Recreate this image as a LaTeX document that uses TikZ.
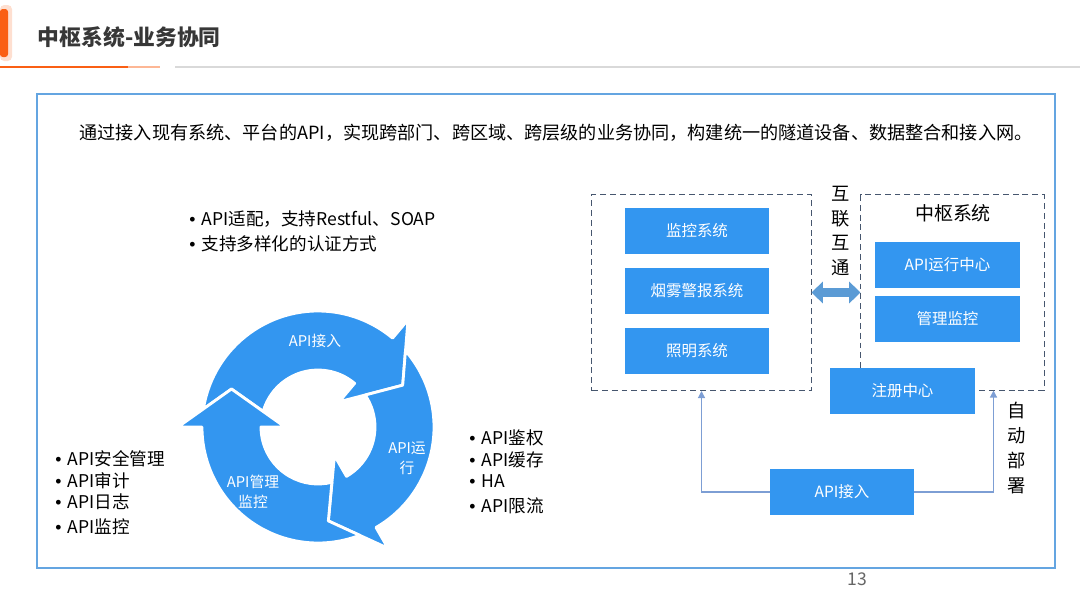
\documentclass[tikz,border=0pt]{standalone}
\usepackage{fontspec}
\setmainfont{Noto Sans CJK SC}
\newfontfamily\latinfont{Liberation Sans}
\usetikzlibrary{positioning, calc, arrows.meta}

\definecolor{azulcaja}{RGB}{51,150,240}
\definecolor{azulmarco}{RGB}{100,165,225}
\definecolor{azulflecha}{RGB}{91,155,213}
\definecolor{azullinea}{RGB}{125,158,212}
\definecolor{grisborde}{RGB}{70,86,110}
\definecolor{naranja}{RGB}{250,95,20}
\definecolor{gristitulo}{RGB}{55,55,55}

\tikzset{
  caja/.style={shape=rectangle, fill=azulcaja, text=white, minimum width=3.6cm, minimum height=1.15cm, inner sep=0pt, font=\fontsize{11pt}{13pt}\selectfont},
  grupo/.style={shape=rectangle, draw=grisborde, dash pattern=on 4.2pt off 2.8pt, line width=0.7pt, inner sep=0pt},
  conector/.style={draw=azullinea, line width=0.9pt, -{Triangle[length=5pt, width=5pt]}},
  doble/.style={draw=azulflecha, line width=7pt, {Triangle[length=8pt, width=15pt]}-{Triangle[length=8pt, width=15pt]}},
  ciclo/.style={fill=azulcaja, draw=white, line width=2pt, line join=round},
  etiquetaciclo/.style={text=white, align=center, font=\fontsize{10.5pt}{14pt}\selectfont},
  vineta/.style={anchor=west, inner sep=0pt, font=\fontsize{12.5pt}{14pt}\selectfont},
  vertical/.style={align=center, font=\fontsize{13pt}{17.6pt}\selectfont}
}

\newcommand{\punto}{{\latinfont\textbullet}\hspace{0.35em}}

% flecha circular: inicio, fin
\newcommand{\flechacirc}[2]{%
  \fill[ciclo] ($(C)+(#1:86.5)+(#1+90:38)$)
    -- ($(C)+(#1+8.95:116)$)
    arc[start angle=#1+8.95, end angle=#2, radius=116]
    -- ($(C)+(#2:140)$)
    -- ($(C)+(#2:86.5)+(#2+90:38)$)
    -- ($(C)+(#2:33)$)
    -- ($(C)+(#2:57)$)
    arc[start angle=#2, end angle=#1+15.9, radius=57]
    -- cycle;
}

\begin{document}
\begin{tikzpicture}[x=0.025cm, y=-0.025cm]
  \useasboundingbox (0,0) rectangle (1080,608);

  % Cabecera
  \fill[naranja!20, rounded corners=3pt] (0,5) rectangle (12,61);
  \fill[naranja, rounded corners=2pt] (0,9) rectangle (8,57);
  \node[anchor=west, text=gristitulo, font=\fontsize{15.5pt}{18pt}\selectfont\bfseries] (Titulo) at (33,37) {中枢系统-业务协同};
  \draw[naranja, line width=1.2pt] (0,67) -- (128,67);
  \draw[naranja!45, line width=1.2pt] (128,67) -- (160,67);
  \draw[gray!30, line width=1.2pt] (175,67) -- (1080,67);

  % Marco
  \draw[azulmarco, line width=0.9pt] (37,94) rectangle (1055,568);

  % Texto principal
  \node[font=\fontsize{12.9pt}{15pt}\selectfont] (Resumen) at (556,133) {通过接入现有系统、平台的API，实现跨部门、跨区域、跨层级的业务协同，构建统一的隧道设备、数据整合和接入网。};

  % Viñetas
  \node[vineta] (Adapta) at (189,219) {\punto API适配，支持Restful、SOAP};
  \node[vineta] (Autent) at (189,244) {\punto 支持多样化的认证方式};

  \node[vineta] (Seguridad) at (55,459) {\punto API安全管理};
  \node[vineta] (Auditoria) at (55,481) {\punto API审计};
  \node[vineta] (Registro) at (55,502) {\punto API日志};
  \node[vineta] (Monitoreo) at (55,527) {\punto API监控};

  \node[vineta] (Autoriza) at (469,438) {\punto API鉴权};
  \node[vineta] (Cache) at (469,460) {\punto API缓存};
  \node[vineta] (Alta) at (469,481) {\punto HA};
  \node[vineta] (Limite) at (469,506) {\punto API限流};

  % Ciclo
  \coordinate (C) at (318,427);
  \flechacirc{180}{310}
  \flechacirc{310}{420}
  \flechacirc{60}{180}
  \node[etiquetaciclo] (CicloAcceso) at (315,341) {API接入};
  \node[etiquetaciclo] (CicloEjec) at (407,458) {API运\\行};
  \node[etiquetaciclo] (CicloGestion) at (253,492) {API管理\\监控};

  % Grupos
  \node[grupo, minimum width=5.475cm, minimum height=4.9cm] (Externos) at (701.5,292.5) {};
  \node[grupo, minimum width=4.575cm, minimum height=4.875cm] (Centro) at (952.5,292.5) {};
  \node[font=\fontsize{13.5pt}{16pt}\selectfont] (CentroTit) at (953,213) {中枢系统};

  % Cajas
  \node[caja] (Monitor) at (697,231) {监控系统};
  \node[caja] (Humo) at (697,291) {烟雾警报系统};
  \node[caja] (Luz) at (697,351) {照明系统};
  \node[caja] (ApiEjec) at (947.5,265) {API运行中心};
  \node[caja] (Gestion) at (947.5,319) {管理监控};
  \node[caja] (Inscrip) at (902.5,391) {注册中心};
  \node[caja] (Acceso) at (842,492) {API接入};

  % Conexiones
  \draw[doble] (Externos.east) -- (Centro.west);
  \draw[conector] (Acceso.west) -| (Externos.south);
  \draw[conector] (Acceso.east) -| ([xshift=-1.275cm]Centro.south east);

  % Etiquetas verticales
  \node[vertical] (Interconexion) at (841,231) {互\\联\\互\\通};
  \node[vertical] (Despliegue) at (1017,448) {自\\动\\部\\署};

  % Pagina
  \node[text=gray!80!black, font=\fontsize{12.5pt}{14pt}\selectfont] (Pagina) at (857,579) {13};
\end{tikzpicture}
\end{document}
